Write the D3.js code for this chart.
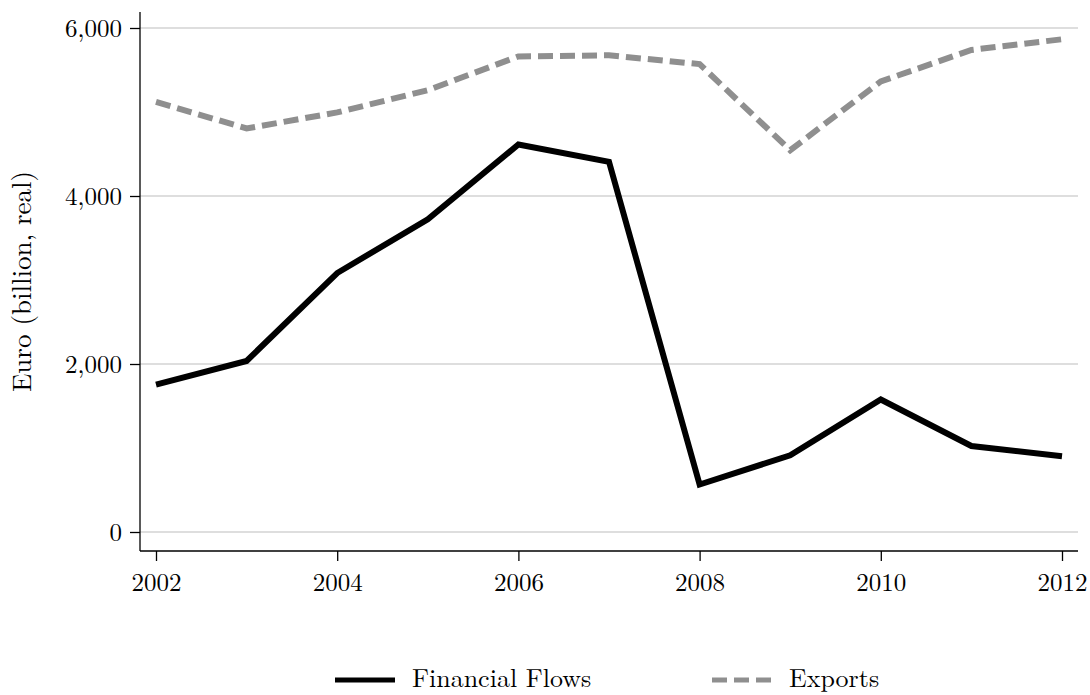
<!DOCTYPE html>
<html>
<head>
<meta charset="utf-8">
<script src="https://cdn.jsdelivr.net/npm/d3@7"></script>
<style>
  body { margin: 0; background: #fff; }
  text { font-family: "Latin Modern Roman", "CMU Serif", "Liberation Serif", serif; fill: #000; }
</style>
</head>
<body>
<svg id="chart"></svg>
<script>
const years = [2002, 2003, 2004, 2005, 2006, 2007, 2008, 2009, 2010, 2011, 2012];
const financialFlows = [1755, 2036, 3083, 3723, 4613, 4407, 565, 913, 1577, 1024, 901];
const exportsVals = [5120, 4804, 4995, 5260, 5662, 5675, 5570, 4545, 5364, 5739, 5866];
const yTicks = [0, 2000, 4000, 6000];
const xTicks = [2002, 2004, 2006, 2008, 2010, 2012];
const seriesNames = ["Financial Flows", "Exports"];

const width = 1090, height = 695;
const svg = d3.select("#chart").attr("width", width).attr("height", height);

// plot frame
const frame = { left: 140, right: 1078, top: 12, bottom: 551 };
const x = d3.scaleLinear().domain([2002, 2012]).range([156, 1062]);
const y = d3.scaleLinear().domain([0, 6000]).range([532, 28]);

// gridlines
svg.append("g").selectAll("line").data(yTicks).join("line")
  .attr("x1", frame.left).attr("x2", frame.right)
  .attr("y1", d => y(d)).attr("y2", d => y(d))
  .attr("stroke", "#bdbdbd").attr("stroke-width", 1.2);

// axes
const yAxis = svg.append("g").attr("transform", `translate(${frame.left},0)`)
  .call(d3.axisLeft(y).tickValues(yTicks).tickFormat(d3.format(",")).tickSize(10).tickPadding(8));
const xAxis = svg.append("g").attr("transform", `translate(0,${frame.bottom})`)
  .call(d3.axisBottom(x).tickValues(xTicks).tickFormat(d3.format("d")).tickSize(10).tickPadding(12));

[yAxis, xAxis].forEach(g => {
  g.select(".domain").remove();
  g.selectAll(".tick line").attr("stroke", "#000").attr("stroke-width", 1.3);
  g.selectAll("text").attr("font-size", 25).attr("font-family", null);
});

svg.append("line").attr("x1", frame.left).attr("x2", frame.left)
  .attr("y1", frame.top).attr("y2", frame.bottom).attr("stroke", "#000").attr("stroke-width", 1.3);
svg.append("line").attr("x1", frame.left).attr("x2", frame.right)
  .attr("y1", frame.bottom).attr("y2", frame.bottom).attr("stroke", "#000").attr("stroke-width", 1.3);

// y title
svg.append("text")
  .attr("transform", `translate(31,${(frame.top + frame.bottom) / 2}) rotate(-90)`)
  .attr("text-anchor", "middle").attr("font-size", 27)
  .text("Euro (billion, real)");

// lines
const line = d3.line().x((d, i) => x(years[i])).y(d => y(d));

svg.append("path").datum(exportsVals)
  .attr("d", line).attr("fill", "none")
  .attr("stroke", "#8f8f8f").attr("stroke-width", 6)
  .attr("stroke-dasharray", "15,7");

svg.append("path").datum(financialFlows)
  .attr("d", line).attr("fill", "none")
  .attr("stroke", "#000").attr("stroke-width", 6)
  .attr("stroke-linejoin", "miter");

// legend
const legend = svg.append("g");
const legItems = [
  { name: seriesNames[0], x0: 335, color: "#000", dash: null },
  { name: seriesNames[1], x0: 712, color: "#8f8f8f", dash: "15,7" }
];
legItems.forEach(it => {
  legend.append("line")
    .attr("x1", it.x0).attr("x2", it.x0 + 60)
    .attr("y1", 680).attr("y2", 680)
    .attr("stroke", it.color).attr("stroke-width", 5)
    .attr("stroke-dasharray", it.dash);
  legend.append("text")
    .attr("x", it.x0 + 77).attr("y", 687)
    .attr("font-size", 26)
    .text(it.name);
});
</script>
</body>
</html>
